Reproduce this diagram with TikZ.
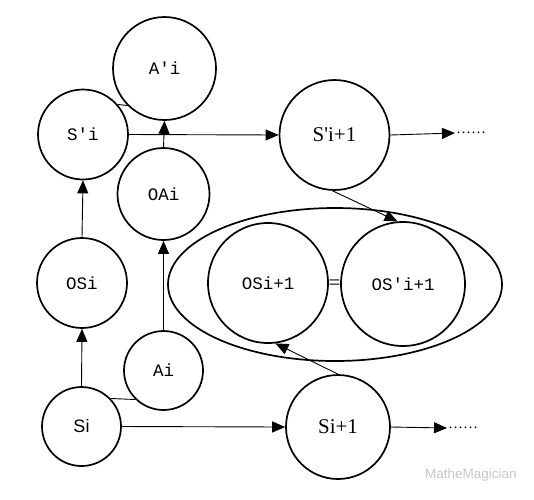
\documentclass[tikz,border=0pt]{standalone}
\usepackage{fontspec}
\setmainfont{Liberation Serif}[Ligatures=TeXOff]
\newfontfamily\monof{Liberation Mono}
\newfontfamily\sansf{Liberation Sans}
\usetikzlibrary{arrows.meta,shapes.geometric}
\begin{document}
\begin{tikzpicture}[x=1pt,y=-1pt,
  st/.style={circle,draw,line width=1.7pt,inner sep=0pt,minimum size=#1},
  ml/.style={font=\monof\fontsize{17.5}{17.5}\selectfont},
  sl/.style={font=\fontsize{21}{21}\selectfont},
  arr/.style={line width=0.9pt,-{Triangle[length=13pt,width=11pt]}},
  ln/.style={line width=0.9pt},
  dotsl/.style={font=\fontsize{15}{15}\selectfont,inner sep=1pt}]
\useasboundingbox (0,0) rectangle (534,499);
% nodes
\node[st=103pt,ml] (Ap) at (164.5,68.5) {A'i};
\node[st=90pt,ml] (Sp) at (83,134.5) {S'i};
\node[st=92pt,ml] (OA) at (163.5,194) {OAi};
\node[st=110pt,sl] (Sp1) at (334.5,135) {S'i+1};
\node[st=90pt,ml] (OS) at (82,283) {OSi};
\node[draw,ellipse,line width=1.7pt,minimum width=334pt,minimum height=153pt,inner sep=0pt] (ell) at (335,284.5) {};
\node[st=120pt,ml] (OS1) at (268,283) {OSi+1};
\node[st=124pt,ml] (OSp1) at (403,284) {OS'i+1};
\node[sl,inner sep=0pt] (eq) at (334.5,285) {=};
\node[st=79pt,ml] (Ai) at (163.5,370.5) {Ai};
\node[st=79pt,font=\sansf\fontsize{18}{18}\selectfont] (Si) at (81.5,426.5) {Si};
\node[st=104pt,sl] (S1) at (338,427) {Si+1};
\node[dotsl,anchor=west] (d1) at (455,133) {……};
\node[dotsl,anchor=west] (d2) at (447,428) {……};
\node[font=\sansf\fontsize{13.5}{13.5}\selectfont,text=black!22,anchor=west,inner sep=0pt] (wm) at (425,475) {MatheMagician};
% connectors
\draw[arr] (OA.north) -- (Ap.south);
\draw[ln] (Sp.41) -- (Ap.225);
\draw[arr] (Sp.east) -- (Sp1.west);
\draw[arr] (OS.north) -- (Sp.south);
\draw[arr] (Si.north) -- (OS.south);
\draw[arr] (Ai.north) -- (OA.south);
\draw[ln] (Si.44) -- (Ai.226);
\draw[arr] (Si.east) -- (S1.west);
\draw[arr] (Sp1.east) -- (d1.west);
\draw[arr] (S1.east) -- (d2.west);
\draw[arr] (Sp1.268) -- (OSp1.95);
\draw[arr] (S1.north) -- (OS1.277);
\end{tikzpicture}
\end{document}
